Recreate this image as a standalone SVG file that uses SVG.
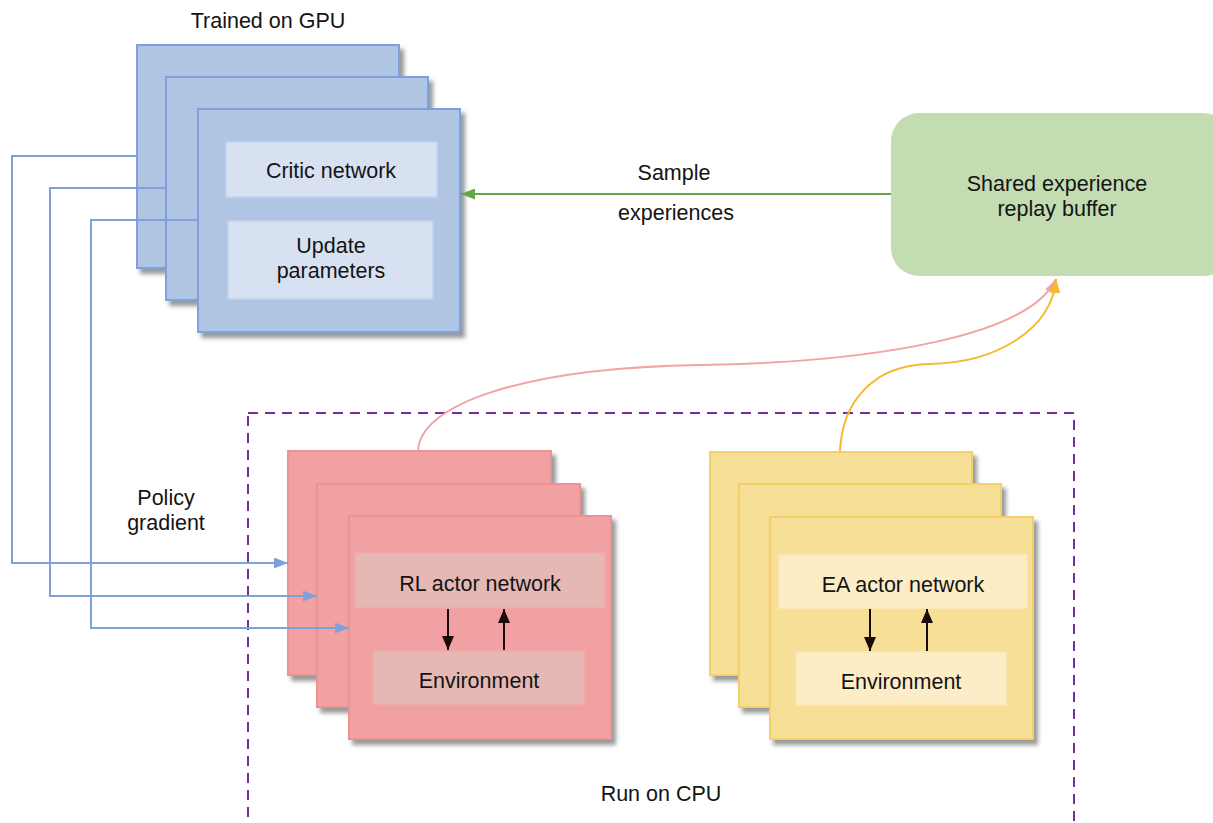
<svg xmlns="http://www.w3.org/2000/svg" width="1213" height="823" viewBox="0 0 1213 823">
<defs>
<filter id="sh" x="-10%" y="-10%" width="130%" height="130%"><feDropShadow dx="4" dy="5" stdDeviation="2" flood-color="#444" flood-opacity="0.55"/></filter>
<marker id="ab" viewBox="0 0 14 11" refX="14" refY="5.5" markerWidth="14" markerHeight="11" markerUnits="userSpaceOnUse" orient="auto"><path d="M0,0 L14,5.5 L0,11 Z" fill="#7fa0dc"/></marker>
<marker id="ag" viewBox="0 0 14 11" refX="14" refY="5.5" markerWidth="14" markerHeight="11" markerUnits="userSpaceOnUse" orient="auto"><path d="M0,0 L14,5.5 L0,11 Z" fill="#62a744"/></marker>
<marker id="ak" viewBox="0 0 14 12" refX="14" refY="6" markerWidth="14" markerHeight="12" markerUnits="userSpaceOnUse" orient="auto"><path d="M0,0 L14,6 L0,12 Z" fill="#1a0a08"/></marker>
<marker id="ap" viewBox="0 0 14 11" refX="14" refY="5.5" markerWidth="14" markerHeight="11" markerUnits="userSpaceOnUse" orient="auto"><path d="M0,0 L14,5.5 L0,11 Z" fill="#f3a3a5"/></marker>
<marker id="ay" viewBox="0 0 14 11" refX="14" refY="5.5" markerWidth="14" markerHeight="11" markerUnits="userSpaceOnUse" orient="auto"><path d="M0,0 L14,5.5 L0,11 Z" fill="#f5b82e"/></marker>
</defs>
<style>
text{font-family:"Liberation Sans",Arial,sans-serif;font-size:21.5px;fill:#141414;text-anchor:middle}
.blue{fill:#b0c4e3;stroke:#7fa0d8;stroke-width:2;filter:url(#sh)}
.bin{fill:#d7e1f2;stroke:#c5d2ea;stroke-width:1.5}
.red{fill:#f1a1a2;stroke:#ee9193;stroke-width:2;filter:url(#sh)}
.rin{fill:#e6b8b4;stroke:#eeaaa8;stroke-width:1.5}
.yel{fill:#f8df98;stroke:#f4d067;stroke-width:2;filter:url(#sh)}
.yin{fill:#fcedc7;stroke:#fbe8b8;stroke-width:1.5}
.bl{fill:none;stroke:#7fa0dc;stroke-width:2}
.k{stroke:#1a0a08;stroke-width:2;fill:none}
</style>
<rect width="1213" height="823" fill="#ffffff"/>
<g id="cpu-region">
<rect x="248" y="413" width="826" height="430" fill="none" stroke="#7030a0" stroke-width="2" stroke-dasharray="10 7"/>
<text x="661" y="801">Run on CPU</text>
</g>
<g id="gpu-critic">
<text x="268" y="28">Trained on GPU</text>
<rect class="blue" x="137" y="45" width="262" height="223"/>
<rect class="blue" x="166" y="77" width="262" height="223"/>
<rect class="blue" x="198" y="109" width="262" height="223"/>
<rect class="bin" x="226" y="142" width="211" height="55"/>
<text x="331" y="178">Critic network</text>
<rect class="bin" x="228" y="221" width="205" height="78"/>
<text x="331" y="253">Update</text>
<text x="331" y="278">parameters</text>
</g>
<g id="replay-buffer">
<rect x="891" y="113" width="340" height="163" rx="28" ry="28" fill="#c3dcb1"/>
<text x="1057" y="191">Shared experience</text>
<text x="1057" y="216">replay buffer</text>
</g>
<g id="rl-actors">
<rect class="red" x="288" y="451" width="263" height="224"/>
<rect class="red" x="317" y="484" width="263" height="223"/>
<rect class="red" x="349" y="516" width="262" height="223"/>
<rect class="rin" x="355" y="553" width="250" height="55"/>
<text x="480" y="591">RL actor network</text>
<rect class="rin" x="373" y="651" width="212" height="54"/>
<text x="479" y="688">Environment</text>
<line class="k" x1="448" y1="609" x2="448" y2="650" marker-end="url(#ak)"/>
<line class="k" x1="504" y1="650" x2="504" y2="609" marker-end="url(#ak)"/>
</g>
<g id="ea-actors">
<rect class="yel" x="710" y="452" width="262" height="223"/>
<rect class="yel" x="739" y="484" width="262" height="223"/>
<rect class="yel" x="770" y="517" width="263" height="222"/>
<rect class="yin" x="779" y="555" width="248" height="53"/>
<text x="903" y="592">EA actor network</text>
<rect class="yin" x="796" y="652" width="210" height="53"/>
<text x="901" y="689">Environment</text>
<line class="k" x1="870" y1="609" x2="870" y2="651" marker-end="url(#ak)"/>
<line class="k" x1="927" y1="651" x2="927" y2="609" marker-end="url(#ak)"/>
</g>
<g id="connectors">
<path class="bl" d="M137,156 H12 V563 H288" marker-end="url(#ab)"/>
<path class="bl" d="M166,188 H50 V596 H317" marker-end="url(#ab)"/>
<path class="bl" d="M198,220 H91 V628 H349" marker-end="url(#ab)"/>
<line x1="891" y1="194" x2="461" y2="194" stroke="#62a744" stroke-width="2" marker-end="url(#ag)"/>
<path d="M418,451 C420,405 520,368 700,365 C880,362 1030,335 1056,279" fill="none" stroke="#f3a3a5" stroke-width="2" marker-end="url(#ap)"/>
<path d="M840,451 C842,405 870,365 930,364 C995,363 1052,330 1056,279" fill="none" stroke="#f5b82e" stroke-width="2" marker-end="url(#ay)"/>
<text x="674" y="180">Sample</text>
<text x="676" y="220">experiences</text>
<text x="166" y="505">Policy</text>
<text x="166" y="530">gradient</text>
</g>
</svg>
